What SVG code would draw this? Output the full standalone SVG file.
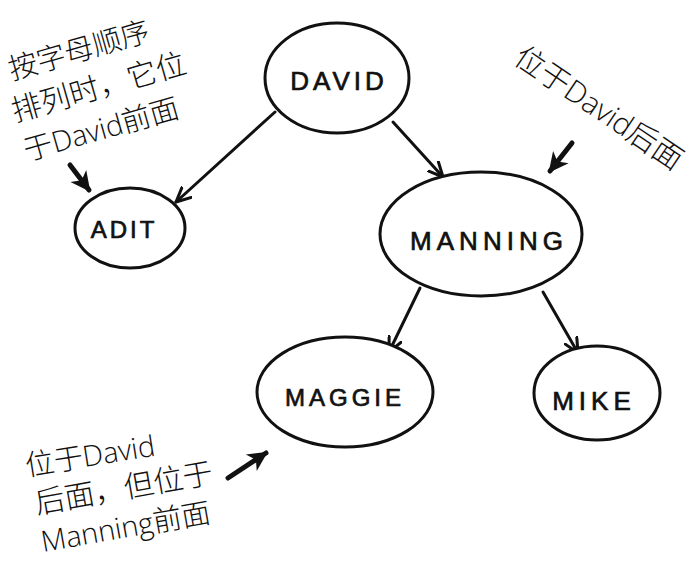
<svg xmlns="http://www.w3.org/2000/svg" width="699" height="564" viewBox="0 0 699 564">
  <style>
    .node { fill: #ffffff; stroke: #111111; stroke-width: 3; }
    .label { font-family: "Liberation Sans", Arial, sans-serif; font-size: 26px; fill: #111111; stroke: #111111; stroke-width: 0.7; text-anchor: middle; }
    .edge { stroke: #111111; stroke-width: 3; fill: none; stroke-linecap: round; }
    .pointer { stroke: #111111; stroke-width: 5; fill: none; stroke-linecap: round; }
    .note { font-family: "Open Sans", "Noto Sans CJK SC", sans-serif; font-size: 29px; font-weight: 300; fill: #111111; }
  </style>
  <defs>
    <marker id="open" viewBox="0 0 10 10" refX="9.5" refY="5" markerWidth="16" markerHeight="16" markerUnits="userSpaceOnUse" orient="auto">
      <path d="M0,0.5 L9.5,5 L0,9.5" fill="none" stroke="#111111" stroke-width="1.9" stroke-linecap="round" stroke-linejoin="round"/>
    </marker>
    <marker id="bold" viewBox="0 0 10 10" refX="8" refY="5" markerWidth="22" markerHeight="22" markerUnits="userSpaceOnUse" orient="auto">
      <path d="M0,0.5 L9,5 L0,9.5 L2.5,5 Z" fill="#111111"/>
    </marker>
  </defs>
  <rect width="699" height="564" fill="#ffffff"/>

  <g id="connectors">
    <line class="edge" x1="275" y1="112" x2="176" y2="202" marker-end="url(#open)"/>
    <line class="edge" x1="393" y1="122" x2="443" y2="177" marker-end="url(#open)"/>
    <line class="edge" x1="420" y1="288" x2="389" y2="352" marker-end="url(#open)"/>
    <line class="edge" x1="543" y1="292" x2="578" y2="353" marker-end="url(#open)"/>
  </g>

  <g id="node-david">
    <ellipse class="node" cx="337" cy="78" rx="72" ry="55"/>
    <text class="label" x="339" y="90" letter-spacing="4">DAVID</text>
  </g>
  <g id="node-adit">
    <ellipse class="node" cx="130" cy="228" rx="55" ry="40"/>
    <text class="label" x="124" y="238" style="font-size:24px" letter-spacing="3">ADIT</text>
  </g>
  <g id="node-manning">
    <ellipse class="node" cx="481" cy="234" rx="101" ry="62"/>
    <text class="label" x="489" y="250" letter-spacing="5">MANNING</text>
  </g>
  <g id="node-maggie">
    <ellipse class="node" cx="345" cy="392" rx="88" ry="55"/>
    <text class="label" x="345" y="406" style="font-size:24px" letter-spacing="4">MAGGIE</text>
  </g>
  <g id="node-mike">
    <ellipse class="node" cx="597" cy="393" rx="63" ry="47"/>
    <text class="label" x="594" y="410" letter-spacing="5">MIKE</text>
  </g>

  <g id="note-adit">
    <text class="note" transform="translate(12,80) rotate(-16)" style="font-size:29px">按字母顺序</text>
    <text class="note" transform="translate(15,122) rotate(-16)" style="font-size:30px">排列时，它位</text>
    <text class="note" transform="translate(27,161) rotate(-16)">于David前面</text>
    <line class="pointer" x1="70" y1="165" x2="89" y2="190" marker-end="url(#bold)"/>
  </g>
  <g id="note-manning">
    <text class="note" transform="translate(512,62) rotate(34)" style="font-size:30px">位于David后面</text>
    <line class="pointer" x1="572" y1="143" x2="550" y2="171" marker-end="url(#bold)"/>
  </g>
  <g id="note-maggie">
    <text class="note" transform="translate(27,476) rotate(-9)">位于David</text>
    <text class="note" transform="translate(37,514) rotate(-10)" style="font-size:30px">后面，但位于</text>
    <text class="note" transform="translate(43,552) rotate(-10)">Manning前面</text>
    <line class="pointer" x1="228" y1="478" x2="266" y2="453" marker-end="url(#bold)"/>
  </g>
</svg>
